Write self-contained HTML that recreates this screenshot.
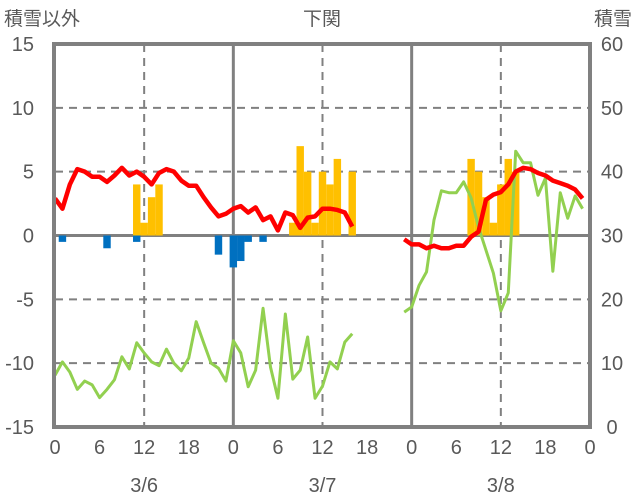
<!DOCTYPE html>
<html><head><meta charset="utf-8">
<style>
body{margin:0;background:#fff;}
svg{display:block;font-family:"Liberation Sans","Noto Sans CJK JP",sans-serif;}
</style></head>
<body>
<svg id="chart" width="636" height="501" viewBox="0 0 636 501" xmlns="http://www.w3.org/2000/svg">
<g id="grid"></g><g id="bars"></g><g id="lines"></g><g id="frame"></g><g id="labels"></g>
</svg>
<script>
const leftTicks=[15,10,5,0,-5,-10,-15];
const rightTicks=[60,50,40,30,20,10,0];
const xTickLabels=["0","6","12","18","0","6","12","18","0","6","12","18","0"];
const dateLabels=["3/6","3/7","3/8"];
// red series (left axis), hours from start of 3/6
const redHours1=[0,1,2,3,4,5,6,7,8,9,10,11,12,13,14,15,16,17,18,19,20,21,22,23,24,25,26,27,28,29,30,31,32,33,34,35,36,37,38,39,40];
const redVals1=[2.9,2.1,4.0,5.2,5.0,4.6,4.6,4.2,4.7,5.3,4.7,5.0,4.6,4.0,4.9,5.2,5.0,4.3,3.9,3.9,3.0,2.2,1.5,1.7,2.1,2.3,1.8,2.2,1.2,1.5,0.4,1.8,1.6,0.6,1.4,1.5,2.1,2.1,2.0,1.8,0.7];
const redHours2=[47,48,49,50,51,52,53,54,55,56,57,58,59,60,61,62,63,64,65,66,67,68,69,70,71];
const redVals2=[-0.3,-0.7,-0.7,-1.0,-0.8,-1.0,-1.0,-0.8,-0.8,-0.1,0.3,2.8,3.2,3.4,4.0,5.0,5.3,5.2,4.9,4.7,4.3,4.1,3.9,3.6,2.9];
// green series (right axis)
const greenHours1=redHours1;
const greenVals1=[8.1,10.2,8.6,5.9,7.2,6.6,4.6,5.9,7.4,11.0,9.1,13.2,11.6,10.2,9.6,12.2,10.0,8.8,10.8,16.5,13.2,10.0,9.2,7.2,13.5,11.6,6.3,8.9,18.6,9.4,4.5,17.7,7.5,8.9,14.1,4.5,6.4,10.2,9.1,13.3,14.6];
const greenHours2=redHours2;
const greenVals2=[18.0,18.8,22.2,24.3,32.4,37.0,36.7,36.7,38.4,35.9,31.3,27.7,24.1,18.2,21.0,43.2,41.4,41.4,36.3,39.0,24.4,36.7,32.7,36.2,34.2];
// yellow bars (left axis, positive)
const yellowHours=[11,12,13,14,32,33,34,35,36,37,38,40,56,57,58,59,60,61,62];
const yellowVals=[4,1,3,4,1,7,5,1,5,4,6,5,6,5,3,1,4,6,5];
// blue bars (left axis, negative)
const blueHours=[1,7,11,22,24,25,26,28];
const blueVals=[-0.5,-1.0,-0.5,-1.5,-2.5,-2.0,-0.5,-0.5];

const X0=55,X1=590,Y0=44,Y1=427;
const xs=h=>X0+(X1-X0)*h/72;
const yl=v=>Y1-(v+15)/30*(Y1-Y0);
const yr=v=>Y1-v/60*(Y1-Y0);
const NS="http://www.w3.org/2000/svg";
function mk(tag,attrs,parent){const e=document.createElementNS(NS,tag);for(const k in attrs)e.setAttribute(k,attrs[k]);parent.appendChild(e);return e;}
const grid=document.getElementById('grid'),bars=document.getElementById('bars'),lines=document.getElementById('lines'),frame=document.getElementById('frame'),labels=document.getElementById('labels');
// horizontal grid
leftTicks.forEach(v=>{
  if(v===15||v===-15)return;
  const y=yl(v);
  const l=mk('line',{x1:X0,x2:X1,y1:y,y2:y,stroke:'#808080','stroke-width':v===0?3:2,'stroke-dasharray':v===0?'':'8,6'},grid);
  
  
});
// vertical grid
[12,24,36,48,60].forEach(h=>{
  const x=xs(h);const solid=(h%24===0);
  const l=mk('line',{x1:x,x2:x,y1:Y0,y2:Y1,stroke:'#808080','stroke-width':solid?3:2,'stroke-dasharray':solid?'':'8,6'},grid);
  
  
});
const bw=(X1-X0)/72;
yellowHours.forEach((h,i)=>{
  const v=yellowVals[i];
  const r=mk('rect',{x:xs(h)-bw/2,y:yl(v),width:bw,height:yl(0)-yl(v),fill:'#ffc000'},bars);
  
  
});
blueHours.forEach((h,i)=>{
  const v=blueVals[i];
  const r=mk('rect',{x:xs(h)-bw/2,y:yl(0),width:bw,height:yl(v)-yl(0),fill:'#0070c0'},bars);
  
  
});
function poly(hs,vs,fy,color,w,name){
  const p=mk('polyline',{points:hs.map((h,i)=>xs(h)+','+fy(vs[i])).join(' '),fill:'none',stroke:color,'stroke-width':w,'stroke-linejoin':'round'},lines);
  
  
}
poly(greenHours1,greenVals1,yr,'#92d050',3,'green-line-day1-2');
poly(greenHours2,greenVals2,yr,'#92d050',3,'green-line-day3');
poly(redHours1,redVals1,yl,'#ff0000',4.5,'red-line-day1-2');
poly(redHours2,redVals2,yl,'#ff0000',4.5,'red-line-day3');
// frame
const fr=mk('rect',{x:X0-1,y:Y0,width:X1-X0+1,height:Y1-Y0,fill:'none',stroke:'#808080','stroke-width':4},frame);


function txt(s,x,y,anchor,size,name){
  const t=mk('text',{x:x,y:y,'text-anchor':anchor,'font-size':size,fill:'#595959'},labels);
  t.textContent=s;
  
  
}
leftTicks.forEach(v=>txt(String(v),34,yl(v)+7,'end',20,'left-tick-label'));
rightTicks.forEach(v=>txt(String(v),612,yr(v)+7,'middle',20,'right-tick-label'));
xTickLabels.forEach((s,i)=>txt(s,xs(i*6),454,'middle',20,'x-tick-label'));
dateLabels.forEach((s,i)=>txt(s,xs(12+24*i),492,'middle',20,'date-label'));
txt('積雪以外',4,25,'start',19,'left-axis-title');
txt('下関',322,25,'middle',19,'chart-title');
txt('積雪',632,25,'end',19,'right-axis-title');
</script>
</body></html>
